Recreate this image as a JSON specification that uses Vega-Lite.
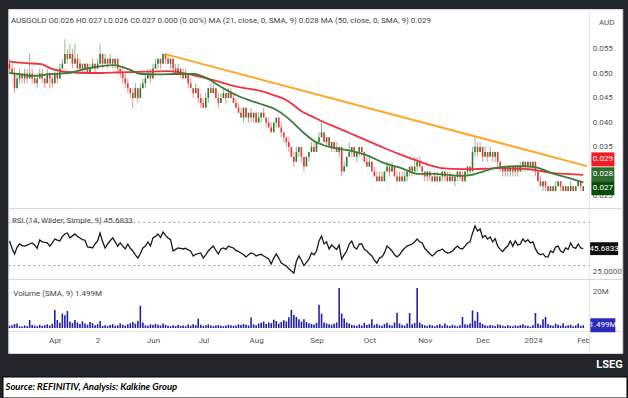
{
"$schema": "https://vega.github.io/schema/vega-lite/v6.json",
"background": "#23262d",
"padding": {"left": 2, "top": 8, "right": 2, "bottom": 2},
"config": {"font": "Liberation Sans Narrow, Roboto", "view": {"fill": "white", "stroke": "#d9d9d9"}, "scale": {"continuousPadding": 0}, "axis": {"labelOverlap": false}},
"datasets": {
"bars": [
{"i":0,"o":0.052,"h":0.053,"l":0.050,"c":0.051,"v":1.2,"r":52.8},
{"i":1,"o":0.051,"h":0.052,"l":0.050,"c":0.050,"v":1.5,"r":46},
{"i":2,"o":0.050,"h":0.051,"l":0.046,"c":0.047,"v":2.2,"r":40.7},
{"i":3,"o":0.047,"h":0.050,"l":0.047,"c":0.049,"v":2.5,"r":47},
{"i":4,"o":0.049,"h":0.051,"l":0.048,"c":0.050,"v":1.0,"r":50},
{"i":5,"o":0.050,"h":0.050,"l":0.048,"c":0.049,"v":0.8,"r":48.5},
{"i":6,"o":0.049,"h":0.051,"l":0.048,"c":0.050,"v":1.4,"r":48},
{"i":7,"o":0.050,"h":0.051,"l":0.048,"c":0.049,"v":1.1,"r":49},
{"i":8,"o":0.049,"h":0.054,"l":0.049,"c":0.050,"v":4.3,"r":50},
{"i":9,"o":0.050,"h":0.051,"l":0.048,"c":0.049,"v":1.6,"r":51},
{"i":10,"o":0.049,"h":0.050,"l":0.048,"c":0.048,"v":1.3,"r":49},
{"i":11,"o":0.048,"h":0.050,"l":0.047,"c":0.049,"v":1.0,"r":46},
{"i":12,"o":0.049,"h":0.051,"l":0.049,"c":0.050,"v":1.8,"r":53.7},
{"i":13,"o":0.050,"h":0.051,"l":0.048,"c":0.049,"v":1.2,"r":52},
{"i":14,"o":0.049,"h":0.049,"l":0.047,"c":0.048,"v":1.5,"r":51.5},
{"i":15,"o":0.048,"h":0.051,"l":0.048,"c":0.050,"v":2.0,"r":51},
{"i":16,"o":0.050,"h":0.050,"l":0.047,"c":0.049,"v":1.4,"r":48},
{"i":17,"o":0.049,"h":0.050,"l":0.047,"c":0.048,"v":2.3,"r":51},
{"i":18,"o":0.048,"h":0.051,"l":0.048,"c":0.050,"v":9.8,"r":54.6},
{"i":19,"o":0.050,"h":0.051,"l":0.048,"c":0.049,"v":4.3,"r":53.5},
{"i":20,"o":0.049,"h":0.052,"l":0.049,"c":0.051,"v":2.8,"r":52.8},
{"i":21,"o":0.051,"h":0.053,"l":0.051,"c":0.052,"v":7.8,"r":57},
{"i":22,"o":0.052,"h":0.057,"l":0.052,"c":0.054,"v":6.9,"r":59.3},
{"i":23,"o":0.054,"h":0.055,"l":0.052,"c":0.053,"v":9.2,"r":60.2},
{"i":24,"o":0.053,"h":0.056,"l":0.053,"c":0.054,"v":3.5,"r":55.6},
{"i":25,"o":0.054,"h":0.055,"l":0.051,"c":0.052,"v":2.7,"r":57.5},
{"i":26,"o":0.052,"h":0.056,"l":0.052,"c":0.053,"v":4.3,"r":59.3},
{"i":27,"o":0.053,"h":0.054,"l":0.051,"c":0.051,"v":3.0,"r":57},
{"i":28,"o":0.051,"h":0.053,"l":0.050,"c":0.052,"v":2.2,"r":55.6},
{"i":29,"o":0.052,"h":0.052,"l":0.050,"c":0.051,"v":3.6,"r":54},
{"i":30,"o":0.051,"h":0.052,"l":0.050,"c":0.052,"v":2.4,"r":53.5},
{"i":31,"o":0.052,"h":0.052,"l":0.050,"c":0.050,"v":1.8,"r":47.2},
{"i":32,"o":0.050,"h":0.052,"l":0.050,"c":0.051,"v":3.2,"r":47},
{"i":33,"o":0.051,"h":0.053,"l":0.051,"c":0.052,"v":2.6,"r":46.3},
{"i":34,"o":0.052,"h":0.052,"l":0.050,"c":0.051,"v":1.5,"r":50},
{"i":35,"o":0.051,"h":0.053,"l":0.051,"c":0.052,"v":2.1,"r":52.8},
{"i":36,"o":0.052,"h":0.056,"l":0.052,"c":0.054,"v":3.8,"r":60.2},
{"i":37,"o":0.054,"h":0.054,"l":0.051,"c":0.052,"v":1.2,"r":52},
{"i":38,"o":0.052,"h":0.054,"l":0.052,"c":0.053,"v":1.5,"r":46.3},
{"i":39,"o":0.053,"h":0.053,"l":0.051,"c":0.052,"v":1.0,"r":50},
{"i":40,"o":0.052,"h":0.054,"l":0.052,"c":0.053,"v":1.7,"r":53},
{"i":41,"o":0.053,"h":0.053,"l":0.051,"c":0.052,"v":2.1,"r":55.6},
{"i":42,"o":0.052,"h":0.053,"l":0.051,"c":0.053,"v":1.2,"r":52},
{"i":43,"o":0.053,"h":0.053,"l":0.050,"c":0.051,"v":1.4,"r":48.1},
{"i":44,"o":0.051,"h":0.051,"l":0.049,"c":0.050,"v":2.5,"r":51},
{"i":45,"o":0.050,"h":0.051,"l":0.048,"c":0.049,"v":1.8,"r":48},
{"i":46,"o":0.049,"h":0.050,"l":0.047,"c":0.048,"v":1.3,"r":45.4},
{"i":47,"o":0.048,"h":0.049,"l":0.046,"c":0.047,"v":2.0,"r":50},
{"i":48,"o":0.047,"h":0.047,"l":0.045,"c":0.046,"v":2.6,"r":46},
{"i":49,"o":0.046,"h":0.047,"l":0.043,"c":0.045,"v":3.2,"r":43.5},
{"i":50,"o":0.045,"h":0.048,"l":0.045,"c":0.047,"v":2.4,"r":40},
{"i":51,"o":0.047,"h":0.047,"l":0.044,"c":0.045,"v":4.0,"r":37},
{"i":52,"o":0.045,"h":0.048,"l":0.045,"c":0.047,"v":12.0,"r":41},
{"i":53,"o":0.047,"h":0.049,"l":0.047,"c":0.048,"v":3.0,"r":46.3},
{"i":54,"o":0.048,"h":0.050,"l":0.047,"c":0.049,"v":1.5,"r":48},
{"i":55,"o":0.049,"h":0.051,"l":0.049,"c":0.050,"v":1.2,"r":51.9},
{"i":56,"o":0.050,"h":0.051,"l":0.048,"c":0.049,"v":2.0,"r":48.1},
{"i":57,"o":0.049,"h":0.052,"l":0.049,"c":0.051,"v":1.6,"r":55.6},
{"i":58,"o":0.051,"h":0.053,"l":0.051,"c":0.052,"v":2.3,"r":57},
{"i":59,"o":0.052,"h":0.053,"l":0.051,"c":0.053,"v":1.8,"r":59.3},
{"i":60,"o":0.053,"h":0.053,"l":0.051,"c":0.052,"v":1.4,"r":56},
{"i":61,"o":0.052,"h":0.054,"l":0.052,"c":0.054,"v":2.5,"r":61.1},
{"i":62,"o":0.054,"h":0.054,"l":0.052,"c":0.053,"v":1.7,"r":58},
{"i":63,"o":0.053,"h":0.054,"l":0.052,"c":0.052,"v":1.2,"r":55.6},
{"i":64,"o":0.052,"h":0.053,"l":0.051,"c":0.053,"v":1.0,"r":54},
{"i":65,"o":0.053,"h":0.053,"l":0.050,"c":0.051,"v":1.5,"r":43.5},
{"i":66,"o":0.051,"h":0.052,"l":0.050,"c":0.050,"v":1.1,"r":45},
{"i":67,"o":0.050,"h":0.052,"l":0.050,"c":0.051,"v":1.6,"r":46.3},
{"i":68,"o":0.051,"h":0.051,"l":0.049,"c":0.050,"v":1.2,"r":46},
{"i":69,"o":0.050,"h":0.051,"l":0.049,"c":0.049,"v":1.4,"r":45.4},
{"i":70,"o":0.049,"h":0.051,"l":0.049,"c":0.050,"v":1.0,"r":46},
{"i":71,"o":0.050,"h":0.050,"l":0.047,"c":0.048,"v":1.9,"r":44.5},
{"i":72,"o":0.048,"h":0.049,"l":0.047,"c":0.047,"v":1.3,"r":43.5},
{"i":73,"o":0.047,"h":0.047,"l":0.045,"c":0.046,"v":2.1,"r":38.9},
{"i":74,"o":0.046,"h":0.048,"l":0.046,"c":0.047,"v":1.5,"r":40.5},
{"i":75,"o":0.047,"h":0.047,"l":0.044,"c":0.045,"v":5.0,"r":41},
{"i":76,"o":0.045,"h":0.046,"l":0.043,"c":0.044,"v":1.8,"r":41.7},
{"i":77,"o":0.044,"h":0.045,"l":0.043,"c":0.043,"v":1.2,"r":37},
{"i":78,"o":0.043,"h":0.046,"l":0.043,"c":0.045,"v":1.5,"r":40},
{"i":79,"o":0.045,"h":0.047,"l":0.044,"c":0.047,"v":2.0,"r":43.5},
{"i":80,"o":0.047,"h":0.048,"l":0.046,"c":0.046,"v":1.4,"r":46},
{"i":81,"o":0.046,"h":0.048,"l":0.046,"c":0.047,"v":1.1,"r":48.1},
{"i":82,"o":0.047,"h":0.047,"l":0.045,"c":0.045,"v":1.3,"r":44},
{"i":83,"o":0.045,"h":0.046,"l":0.043,"c":0.044,"v":1.6,"r":40.7},
{"i":84,"o":0.044,"h":0.046,"l":0.044,"c":0.045,"v":1.2,"r":45.4},
{"i":85,"o":0.045,"h":0.047,"l":0.045,"c":0.046,"v":1.0,"r":46.3},
{"i":86,"o":0.046,"h":0.046,"l":0.044,"c":0.045,"v":1.4,"r":45},
{"i":87,"o":0.045,"h":0.047,"l":0.045,"c":0.046,"v":1.8,"r":48.1},
{"i":88,"o":0.046,"h":0.047,"l":0.045,"c":0.045,"v":1.5,"r":47},
{"i":89,"o":0.045,"h":0.046,"l":0.044,"c":0.044,"v":1.2,"r":46.3},
{"i":90,"o":0.044,"h":0.045,"l":0.043,"c":0.043,"v":1.3,"r":44},
{"i":91,"o":0.043,"h":0.044,"l":0.042,"c":0.042,"v":2.0,"r":43},
{"i":92,"o":0.042,"h":0.043,"l":0.041,"c":0.041,"v":1.7,"r":41.7},
{"i":93,"o":0.041,"h":0.043,"l":0.040,"c":0.043,"v":2.2,"r":40},
{"i":94,"o":0.043,"h":0.043,"l":0.041,"c":0.041,"v":1.8,"r":38},
{"i":95,"o":0.041,"h":0.042,"l":0.040,"c":0.042,"v":1.4,"r":40},
{"i":96,"o":0.042,"h":0.043,"l":0.040,"c":0.041,"v":5.7,"r":41.7},
{"i":97,"o":0.041,"h":0.042,"l":0.040,"c":0.042,"v":2.0,"r":41},
{"i":98,"o":0.042,"h":0.042,"l":0.040,"c":0.040,"v":1.5,"r":38.9},
{"i":99,"o":0.040,"h":0.042,"l":0.040,"c":0.041,"v":2.5,"r":40},
{"i":100,"o":0.041,"h":0.042,"l":0.040,"c":0.042,"v":2.8,"r":40.5},
{"i":101,"o":0.042,"h":0.043,"l":0.041,"c":0.041,"v":3.5,"r":38.9},
{"i":102,"o":0.041,"h":0.041,"l":0.039,"c":0.040,"v":2.2,"r":37.5},
{"i":103,"o":0.040,"h":0.041,"l":0.039,"c":0.039,"v":3.0,"r":36.1},
{"i":104,"o":0.039,"h":0.040,"l":0.038,"c":0.038,"v":2.6,"r":31.5},
{"i":105,"o":0.038,"h":0.040,"l":0.038,"c":0.040,"v":4.5,"r":37},
{"i":106,"o":0.040,"h":0.041,"l":0.039,"c":0.041,"v":3.8,"r":40.7},
{"i":107,"o":0.041,"h":0.041,"l":0.039,"c":0.039,"v":2.4,"r":37},
{"i":108,"o":0.039,"h":0.040,"l":0.037,"c":0.038,"v":3.3,"r":32.4},
{"i":109,"o":0.038,"h":0.038,"l":0.036,"c":0.037,"v":4.2,"r":31},
{"i":110,"o":0.037,"h":0.037,"l":0.035,"c":0.036,"v":3.6,"r":29.6},
{"i":111,"o":0.036,"h":0.037,"l":0.034,"c":0.035,"v":5.8,"r":27},
{"i":112,"o":0.035,"h":0.035,"l":0.033,"c":0.033,"v":9.8,"r":25},
{"i":113,"o":0.033,"h":0.034,"l":0.031,"c":0.032,"v":7.0,"r":23.1},
{"i":114,"o":0.032,"h":0.035,"l":0.032,"c":0.034,"v":6.0,"r":34},
{"i":115,"o":0.034,"h":0.035,"l":0.033,"c":0.035,"v":4.7,"r":38.9},
{"i":116,"o":0.035,"h":0.035,"l":0.032,"c":0.033,"v":3.5,"r":35},
{"i":117,"o":0.033,"h":0.033,"l":0.030,"c":0.031,"v":4.7,"r":30},
{"i":118,"o":0.031,"h":0.033,"l":0.031,"c":0.033,"v":3.2,"r":33},
{"i":119,"o":0.033,"h":0.034,"l":0.032,"c":0.034,"v":2.6,"r":36},
{"i":120,"o":0.034,"h":0.036,"l":0.034,"c":0.035,"v":2.2,"r":41.7},
{"i":121,"o":0.035,"h":0.036,"l":0.034,"c":0.034,"v":1.9,"r":40},
{"i":122,"o":0.034,"h":0.036,"l":0.034,"c":0.036,"v":2.8,"r":43.5},
{"i":123,"o":0.036,"h":0.038,"l":0.036,"c":0.037,"v":12.6,"r":52.8},
{"i":124,"o":0.037,"h":0.040,"l":0.037,"c":0.038,"v":7.8,"r":57.4},
{"i":125,"o":0.038,"h":0.038,"l":0.036,"c":0.036,"v":3.0,"r":50},
{"i":126,"o":0.036,"h":0.037,"l":0.035,"c":0.037,"v":2.5,"r":52},
{"i":127,"o":0.037,"h":0.037,"l":0.035,"c":0.035,"v":2.0,"r":45.4},
{"i":128,"o":0.035,"h":0.036,"l":0.034,"c":0.036,"v":1.8,"r":49},
{"i":129,"o":0.036,"h":0.036,"l":0.034,"c":0.035,"v":2.3,"r":47},
{"i":130,"o":0.035,"h":0.036,"l":0.034,"c":0.034,"v":3.0,"r":45},
{"i":131,"o":0.034,"h":0.035,"l":0.033,"c":0.035,"v":21.6,"r":49},
{"i":132,"o":0.035,"h":0.035,"l":0.029,"c":0.030,"v":7.8,"r":36.1},
{"i":133,"o":0.030,"h":0.032,"l":0.030,"c":0.031,"v":5.2,"r":40},
{"i":134,"o":0.031,"h":0.033,"l":0.031,"c":0.033,"v":3.0,"r":43.5},
{"i":135,"o":0.033,"h":0.036,"l":0.033,"c":0.034,"v":2.4,"r":50},
{"i":136,"o":0.034,"h":0.035,"l":0.033,"c":0.035,"v":1.8,"r":52.8},
{"i":137,"o":0.035,"h":0.035,"l":0.033,"c":0.033,"v":1.5,"r":47},
{"i":138,"o":0.033,"h":0.034,"l":0.032,"c":0.034,"v":1.2,"r":45.4},
{"i":139,"o":0.034,"h":0.035,"l":0.033,"c":0.035,"v":2.0,"r":50},
{"i":140,"o":0.035,"h":0.035,"l":0.033,"c":0.034,"v":1.4,"r":50},
{"i":141,"o":0.034,"h":0.034,"l":0.032,"c":0.032,"v":2.8,"r":45},
{"i":142,"o":0.032,"h":0.033,"l":0.031,"c":0.031,"v":1.6,"r":43.5},
{"i":143,"o":0.031,"h":0.033,"l":0.031,"c":0.032,"v":2.1,"r":41},
{"i":144,"o":0.032,"h":0.032,"l":0.030,"c":0.030,"v":4.7,"r":38.9},
{"i":145,"o":0.030,"h":0.031,"l":0.029,"c":0.029,"v":1.7,"r":35},
{"i":146,"o":0.029,"h":0.030,"l":0.028,"c":0.028,"v":2.3,"r":32.4},
{"i":147,"o":0.028,"h":0.030,"l":0.028,"c":0.029,"v":1.5,"r":37},
{"i":148,"o":0.029,"h":0.030,"l":0.028,"c":0.028,"v":1.2,"r":38},
{"i":149,"o":0.028,"h":0.030,"l":0.028,"c":0.030,"v":2.2,"r":41.7},
{"i":150,"o":0.030,"h":0.032,"l":0.030,"c":0.031,"v":2.8,"r":48.1},
{"i":151,"o":0.031,"h":0.031,"l":0.029,"c":0.030,"v":1.8,"r":46},
{"i":152,"o":0.030,"h":0.032,"l":0.030,"c":0.031,"v":1.4,"r":43.5},
{"i":153,"o":0.031,"h":0.031,"l":0.029,"c":0.029,"v":3.0,"r":40},
{"i":154,"o":0.029,"h":0.030,"l":0.028,"c":0.028,"v":8.3,"r":38},
{"i":155,"o":0.028,"h":0.030,"l":0.028,"c":0.029,"v":2.5,"r":40},
{"i":156,"o":0.029,"h":0.030,"l":0.028,"c":0.028,"v":1.6,"r":43.5},
{"i":157,"o":0.028,"h":0.030,"l":0.028,"c":0.029,"v":1.3,"r":46},
{"i":158,"o":0.029,"h":0.030,"l":0.028,"c":0.030,"v":2.4,"r":48.1},
{"i":159,"o":0.030,"h":0.031,"l":0.029,"c":0.031,"v":8.1,"r":49},
{"i":160,"o":0.031,"h":0.031,"l":0.029,"c":0.030,"v":2.0,"r":50},
{"i":161,"o":0.030,"h":0.033,"l":0.030,"c":0.031,"v":2.8,"r":52},
{"i":162,"o":0.031,"h":0.033,"l":0.030,"c":0.032,"v":21.6,"r":54.6},
{"i":163,"o":0.032,"h":0.033,"l":0.031,"c":0.031,"v":3.0,"r":52},
{"i":164,"o":0.031,"h":0.031,"l":0.029,"c":0.030,"v":2.0,"r":50.9},
{"i":165,"o":0.030,"h":0.030,"l":0.028,"c":0.029,"v":1.5,"r":46},
{"i":166,"o":0.029,"h":0.030,"l":0.028,"c":0.030,"v":1.2,"r":43.5},
{"i":167,"o":0.030,"h":0.030,"l":0.028,"c":0.029,"v":1.8,"r":41},
{"i":168,"o":0.029,"h":0.029,"l":0.028,"c":0.028,"v":1.4,"r":38.9},
{"i":169,"o":0.028,"h":0.030,"l":0.028,"c":0.029,"v":1.0,"r":41},
{"i":170,"o":0.029,"h":0.030,"l":0.028,"c":0.028,"v":1.6,"r":43.5},
{"i":171,"o":0.028,"h":0.029,"l":0.028,"c":0.029,"v":2.0,"r":44},
{"i":172,"o":0.029,"h":0.030,"l":0.028,"c":0.030,"v":1.2,"r":45.4},
{"i":173,"o":0.030,"h":0.030,"l":0.028,"c":0.029,"v":2.4,"r":43},
{"i":174,"o":0.029,"h":0.030,"l":0.028,"c":0.028,"v":1.5,"r":41.7},
{"i":175,"o":0.028,"h":0.030,"l":0.028,"c":0.029,"v":1.1,"r":42},
{"i":176,"o":0.029,"h":0.029,"l":0.028,"c":0.028,"v":1.8,"r":43.5},
{"i":177,"o":0.028,"h":0.029,"l":0.027,"c":0.029,"v":1.3,"r":46},
{"i":178,"o":0.029,"h":0.030,"l":0.028,"c":0.030,"v":1.0,"r":48.1},
{"i":179,"o":0.030,"h":0.030,"l":0.028,"c":0.029,"v":1.5,"r":46},
{"i":180,"o":0.029,"h":0.030,"l":0.028,"c":0.028,"v":6.0,"r":45.4},
{"i":181,"o":0.028,"h":0.030,"l":0.028,"c":0.030,"v":2.0,"r":48},
{"i":182,"o":0.030,"h":0.031,"l":0.029,"c":0.031,"v":1.8,"r":50.9},
{"i":183,"o":0.031,"h":0.031,"l":0.029,"c":0.030,"v":2.5,"r":52},
{"i":184,"o":0.030,"h":0.035,"l":0.030,"c":0.034,"v":9.5,"r":60},
{"i":185,"o":0.034,"h":0.037,"l":0.033,"c":0.035,"v":4.0,"r":66.7},
{"i":186,"o":0.035,"h":0.036,"l":0.033,"c":0.034,"v":8.6,"r":62},
{"i":187,"o":0.034,"h":0.036,"l":0.034,"c":0.035,"v":3.0,"r":63.9},
{"i":188,"o":0.035,"h":0.035,"l":0.032,"c":0.033,"v":2.2,"r":56},
{"i":189,"o":0.033,"h":0.035,"l":0.033,"c":0.034,"v":1.5,"r":58},
{"i":190,"o":0.034,"h":0.034,"l":0.032,"c":0.033,"v":1.2,"r":54.6},
{"i":191,"o":0.033,"h":0.035,"l":0.033,"c":0.034,"v":1.6,"r":56.5},
{"i":192,"o":0.034,"h":0.034,"l":0.032,"c":0.033,"v":1.4,"r":52},
{"i":193,"o":0.033,"h":0.034,"l":0.032,"c":0.034,"v":1.1,"r":55},
{"i":194,"o":0.034,"h":0.034,"l":0.031,"c":0.032,"v":2.0,"r":48},
{"i":195,"o":0.032,"h":0.032,"l":0.030,"c":0.031,"v":1.7,"r":45},
{"i":196,"o":0.031,"h":0.031,"l":0.029,"c":0.030,"v":1.3,"r":43},
{"i":197,"o":0.030,"h":0.031,"l":0.029,"c":0.031,"v":1.0,"r":46},
{"i":198,"o":0.031,"h":0.031,"l":0.029,"c":0.030,"v":1.5,"r":48.1},
{"i":199,"o":0.030,"h":0.031,"l":0.029,"c":0.031,"v":1.2,"r":52.8},
{"i":200,"o":0.031,"h":0.031,"l":0.029,"c":0.030,"v":0.9,"r":48},
{"i":201,"o":0.030,"h":0.031,"l":0.029,"c":0.031,"v":1.4,"r":52.8},
{"i":202,"o":0.031,"h":0.031,"l":0.029,"c":0.030,"v":1.1,"r":49},
{"i":203,"o":0.030,"h":0.032,"l":0.030,"c":0.031,"v":1.6,"r":50},
{"i":204,"o":0.031,"h":0.032,"l":0.030,"c":0.032,"v":2.0,"r":54.6},
{"i":205,"o":0.032,"h":0.032,"l":0.030,"c":0.031,"v":1.4,"r":52},
{"i":206,"o":0.031,"h":0.032,"l":0.030,"c":0.032,"v":1.2,"r":54},
{"i":207,"o":0.032,"h":0.032,"l":0.030,"c":0.031,"v":0.8,"r":50.9},
{"i":208,"o":0.031,"h":0.032,"l":0.030,"c":0.032,"v":1.5,"r":52},
{"i":209,"o":0.032,"h":0.032,"l":0.029,"c":0.030,"v":8.1,"r":45.4},
{"i":210,"o":0.030,"h":0.030,"l":0.028,"c":0.028,"v":2.5,"r":41.7},
{"i":211,"o":0.028,"h":0.029,"l":0.027,"c":0.027,"v":1.7,"r":40},
{"i":212,"o":0.027,"h":0.028,"l":0.026,"c":0.028,"v":4.7,"r":41},
{"i":213,"o":0.028,"h":0.028,"l":0.026,"c":0.027,"v":6.0,"r":38},
{"i":214,"o":0.027,"h":0.027,"l":0.026,"c":0.026,"v":2.2,"r":38},
{"i":215,"o":0.026,"h":0.027,"l":0.026,"c":0.027,"v":1.6,"r":43.5},
{"i":216,"o":0.027,"h":0.027,"l":0.026,"c":0.026,"v":1.2,"r":42},
{"i":217,"o":0.026,"h":0.028,"l":0.026,"c":0.027,"v":2.4,"r":47.2},
{"i":218,"o":0.027,"h":0.028,"l":0.027,"c":0.028,"v":1.8,"r":48},
{"i":219,"o":0.028,"h":0.028,"l":0.026,"c":0.027,"v":1.3,"r":43.5},
{"i":220,"o":0.027,"h":0.027,"l":0.026,"c":0.026,"v":2.6,"r":42},
{"i":221,"o":0.026,"h":0.027,"l":0.026,"c":0.027,"v":1.1,"r":46.3},
{"i":222,"o":0.027,"h":0.027,"l":0.026,"c":0.026,"v":1.5,"r":45},
{"i":223,"o":0.026,"h":0.028,"l":0.026,"c":0.027,"v":1.8,"r":50.9},
{"i":224,"o":0.027,"h":0.027,"l":0.026,"c":0.026,"v":1.0,"r":47},
{"i":225,"o":0.026,"h":0.027,"l":0.026,"c":0.027,"v":1.4,"r":46},
{"i":226,"o":0.027,"h":0.028,"l":0.027,"c":0.028,"v":2.4,"r":50},
{"i":227,"o":0.028,"h":0.028,"l":0.026,"c":0.027,"v":1.2,"r":46.3},
{"i":228,"o":0.026,"h":0.027,"l":0.026,"c":0.027,"v":1.5,"r":45.68}
],
"ma": [
{"s":"MA50","i":0,"p":0.0524},{"s":"MA50","i":6.7,"p":0.0521},{"s":"MA50","i":12.6,"p":0.0519},{"s":"MA50","i":16.6,"p":0.0510},{"s":"MA50","i":20.6,"p":0.0505},{"s":"MA50","i":23.3,"p":0.0503},{"s":"MA50","i":31.3,"p":0.0501},{"s":"MA50","i":36.5,"p":0.0501},{"s":"MA50","i":42.4,"p":0.0502},{"s":"MA50","i":49.6,"p":0.0503},{"s":"MA50","i":56.3,"p":0.0504},{"s":"MA50","i":63.1,"p":0.0505},{"s":"MA50","i":67.1,"p":0.0503},{"s":"MA50","i":71,"p":0.0499},{"s":"MA50","i":75,"p":0.0494},{"s":"MA50","i":79,"p":0.0489},{"s":"MA50","i":84.2,"p":0.0482},{"s":"MA50","i":89.3,"p":0.0474},{"s":"MA50","i":94.9,"p":0.0469},{"s":"MA50","i":100.1,"p":0.0464},{"s":"MA50","i":104.8,"p":0.0456},{"s":"MA50","i":109.2,"p":0.0448},{"s":"MA50","i":112.8,"p":0.0436},{"s":"MA50","i":116,"p":0.0423},{"s":"MA50","i":120,"p":0.0413},{"s":"MA50","i":123.9,"p":0.0403},{"s":"MA50","i":129.9,"p":0.0390},{"s":"MA50","i":135.8,"p":0.0377},{"s":"MA50","i":142.6,"p":0.0362},{"s":"MA50","i":148.9,"p":0.0348},{"s":"MA50","i":155.7,"p":0.0334},{"s":"MA50","i":162.5,"p":0.0321},{"s":"MA50","i":167.6,"p":0.0312},{"s":"MA50","i":171.6,"p":0.0307},{"s":"MA50","i":179.5,"p":0.0305},{"s":"MA50","i":184.7,"p":0.0305},{"s":"MA50","i":190.3,"p":0.0306},{"s":"MA50","i":195.4,"p":0.0307},{"s":"MA50","i":200.6,"p":0.0306},{"s":"MA50","i":206.2,"p":0.0305},{"s":"MA50","i":211.3,"p":0.0301},{"s":"MA50","i":215.3,"p":0.0297},{"s":"MA50","i":221.3,"p":0.0295},{"s":"MA50","i":228,"p":0.0293},
{"s":"MA21","i":0,"p":0.0501},{"s":"MA21","i":4.7,"p":0.0498},{"s":"MA21","i":9.8,"p":0.0495},{"s":"MA21","i":16.6,"p":0.0499},{"s":"MA21","i":23.3,"p":0.0501},{"s":"MA21","i":29.7,"p":0.0509},{"s":"MA21","i":36.5,"p":0.0515},{"s":"MA21","i":41.6,"p":0.0517},{"s":"MA21","i":44.4,"p":0.0514},{"s":"MA21","i":47.2,"p":0.0509},{"s":"MA21","i":52.4,"p":0.0499},{"s":"MA21","i":59.1,"p":0.0498},{"s":"MA21","i":66.3,"p":0.0499},{"s":"MA21","i":73.4,"p":0.0499},{"s":"MA21","i":76.2,"p":0.0495},{"s":"MA21","i":79,"p":0.0489},{"s":"MA21","i":83,"p":0.0476},{"s":"MA21","i":87,"p":0.0464},{"s":"MA21","i":91.3,"p":0.0453},{"s":"MA21","i":96.1,"p":0.0444},{"s":"MA21","i":100.9,"p":0.0436},{"s":"MA21","i":105.2,"p":0.0428},{"s":"MA21","i":109.2,"p":0.0415},{"s":"MA21","i":113.2,"p":0.0397},{"s":"MA21","i":117.1,"p":0.0378},{"s":"MA21","i":121.1,"p":0.0362},{"s":"MA21","i":125.1,"p":0.0353},{"s":"MA21","i":129.1,"p":0.0348},{"s":"MA21","i":135.8,"p":0.0342},{"s":"MA21","i":142.6,"p":0.0332},{"s":"MA21","i":148.9,"p":0.0317},{"s":"MA21","i":155.7,"p":0.0307},{"s":"MA21","i":162.5,"p":0.0295},{"s":"MA21","i":168.8,"p":0.0295},{"s":"MA21","i":174.4,"p":0.0293},{"s":"MA21","i":179.5,"p":0.0291},{"s":"MA21","i":183.5,"p":0.0293},{"s":"MA21","i":186.3,"p":0.0297},{"s":"MA21","i":189.5,"p":0.0302},{"s":"MA21","i":192.7,"p":0.0307},{"s":"MA21","i":197.4,"p":0.0310},{"s":"MA21","i":202.2,"p":0.0311},{"s":"MA21","i":208.6,"p":0.0309},{"s":"MA21","i":212.1,"p":0.0304},{"s":"MA21","i":215.3,"p":0.0297},{"s":"MA21","i":218.5,"p":0.0292},{"s":"MA21","i":222.1,"p":0.0287},{"s":"MA21","i":225.3,"p":0.0282},{"s":"MA21","i":228,"p":0.0278}
],
"trend": [{"i":61.5,"p":0.054},{"i":229.5,"p":0.0311}],
"lvl": [{"lv":70},{"lv":30}]
},
"center": true,
"spacing": 6,
"vconcat": [
{
"title": {"text": "LSEG", "orient": "bottom", "anchor": "end", "offset": 5, "fontSize": 11, "fontWeight": "bold", "color": "white", "font": "Roboto"},
"spacing": 0,
"bounds": "flush",
"resolve": {"scale": {"x": "shared", "y": "independent", "color": "independent"}},
"vconcat": [
{
"width": 614, "height": 199,
"title": {"text": "AUSGOLD  O0.026  H0.027  L0.026  C0.027  0.000 (0.00%)     MA (21, close, 0, SMA, 9)  0.028     MA (50, close, 0, SMA, 9)  0.029", "orient": "top", "anchor": "start", "offset": -20, "dx": 5, "baseline": "middle", "fontSize": 8, "fontWeight": "normal", "color": "#444"},
"layer": [
{"data": {"name": "bars"}, "mark": {"type": "rule", "strokeWidth": 1, "opacity": 0.55},
 "encoding": {
  "x": {"field": "i", "type": "quantitative", "scale": {"domain": [-0.5, 243.5], "nice": false, "zero": false}, "axis": null},
  "y": {"field": "l", "type": "quantitative", "scale": {"domain": [0.02255, 0.06316], "nice": false, "zero": false},
        "axis": {"orient": "right", "offset": -33, "values": [0.025, 0.035, 0.04, 0.045, 0.05, 0.055], "tickCount": 20, "format": ".3f", "ticks": false, "grid": false, "labelOverlap": false, "domainColor": "#e2e2e2", "labelColor": "#555", "labelFontSize": 8, "labelPadding": 3, "title": "AUD", "titleAngle": 0, "titleAlign": "center", "titleBaseline": "middle", "titleX": 17, "titleY": 13, "titleFontSize": 8, "titleFontWeight": "normal", "titleColor": "#555"}},
  "y2": {"field": "h"},
  "color": {"condition": {"test": "datum.c >= datum.o", "value": "#2e7d32"}, "value": "#e53935"}}},
{"data": {"name": "bars"}, "mark": {"type": "bar", "width": 1.6},
 "encoding": {
  "x": {"field": "i", "type": "quantitative", "scale": {"domain": [-0.5, 243.5], "nice": false, "zero": false}, "axis": null},
  "y": {"field": "o", "type": "quantitative", "scale": {"domain": [0.02255, 0.06316], "nice": false, "zero": false}},
  "y2": {"field": "c"},
  "color": {"condition": {"test": "datum.c >= datum.o", "value": "#2e7d32"}, "value": "#e53935"}}},
{"data": {"name": "ma"}, "mark": {"type": "line", "strokeWidth": 1.8, "interpolate": "monotone"},
 "encoding": {
  "x": {"field": "i", "type": "quantitative", "scale": {"domain": [-0.5, 243.5], "nice": false, "zero": false}, "axis": null},
  "y": {"field": "p", "type": "quantitative", "scale": {"domain": [0.02255, 0.06316], "nice": false, "zero": false}},
  "color": {"field": "s", "type": "nominal", "scale": {"domain": ["MA21", "MA50"], "range": ["#3c7d3c", "#f0323c"]}, "legend": null}}},
{"data": {"name": "trend"}, "mark": {"type": "line", "color": "#ffa726", "strokeWidth": 2},
 "encoding": {
  "x": {"field": "i", "type": "quantitative", "scale": {"domain": [-0.5, 243.5], "nice": false, "zero": false}, "axis": null},
  "y": {"field": "p", "type": "quantitative", "scale": {"domain": [0.02255, 0.06316], "nice": false, "zero": false}}}},
{"data": {"values": [{"t": "0.029", "v": 0.029}]}, "mark": {"type": "point", "shape": "M-1,-0.61H1V0.61H-1Z", "size": 529, "filled": true, "opacity": 1, "color": "#f21c23", "yOffset": -17},
 "encoding": {"x": {"datum": 235.8, "type": "quantitative"}, "y": {"field": "v", "type": "quantitative"}}},
{"data": {"values": [{"t": "0.029", "v": 0.029}]}, "mark": {"type": "text", "color": "white", "fontSize": 8, "baseline": "middle", "yOffset": -17},
 "encoding": {"x": {"datum": 235.8, "type": "quantitative"}, "y": {"field": "v", "type": "quantitative"}, "text": {"field": "t"}}},
{"data": {"values": [{"t": "0.028", "v": 0.028}]}, "mark": {"type": "point", "shape": "M-1,-0.61H1V0.61H-1Z", "size": 529, "filled": true, "opacity": 1, "color": "#2d6e2d", "yOffset": -7},
 "encoding": {"x": {"datum": 235.8, "type": "quantitative"}, "y": {"field": "v", "type": "quantitative"}}},
{"data": {"values": [{"t": "0.028", "v": 0.028}]}, "mark": {"type": "text", "color": "white", "fontSize": 8, "baseline": "middle", "yOffset": -7},
 "encoding": {"x": {"datum": 235.8, "type": "quantitative"}, "y": {"field": "v", "type": "quantitative"}, "text": {"field": "t"}}},
{"data": {"values": [{"t": "0.027", "v": 0.027}]}, "mark": {"type": "point", "shape": "M-1,-0.61H1V0.61H-1Z", "size": 529, "filled": true, "opacity": 1, "color": "#0b4d0b", "yOffset": 2},
 "encoding": {"x": {"datum": 235.8, "type": "quantitative"}, "y": {"field": "v", "type": "quantitative"}}},
{"data": {"values": [{"t": "0.027", "v": 0.027}]}, "mark": {"type": "text", "color": "white", "fontSize": 8, "baseline": "middle", "yOffset": 2},
 "encoding": {"x": {"datum": 235.8, "type": "quantitative"}, "y": {"field": "v", "type": "quantitative"}, "text": {"field": "t"}}}
]
},
{
"width": 614, "height": 71,
"title": {"text": "RSI (14, Wilder, Simple, 9)  45.6833", "orient": "top", "anchor": "start", "offset": -21, "dx": 5, "baseline": "middle", "fontSize": 8, "fontWeight": "normal", "color": "#444"},
"layer": [
{"data": {"name": "lvl"}, "mark": {"type": "rule", "color": "#9a9a9a", "strokeDash": [2, 3], "strokeWidth": 1},
 "encoding": {
  "x": {"datum": -0.5, "type": "quantitative", "scale": {"domain": [-0.5, 243.5], "nice": false, "zero": false}, "axis": null},
  "x2": {"datum": 230.4},
  "y": {"field": "lv", "type": "quantitative", "scale": {"domain": [17.6, 83.3], "nice": false, "zero": false},
        "axis": {"orient": "right", "offset": -33, "values": [25], "format": ".4f", "ticks": false, "grid": false, "labelOverlap": false, "domainColor": "#e2e2e2", "labelColor": "#555", "labelFontSize": 8, "labelPadding": 3, "title": null}}}},
{"data": {"name": "bars"}, "mark": {"type": "line", "color": "#1a1a1a", "strokeWidth": 1.3},
 "encoding": {
  "x": {"field": "i", "type": "quantitative", "scale": {"domain": [-0.5, 243.5], "nice": false, "zero": false}, "axis": null},
  "y": {"field": "r", "type": "quantitative", "scale": {"domain": [17.6, 83.3], "nice": false, "zero": false}}}},
{"data": {"values": [{"t": "45.6833", "v": 45.6833}]}, "mark": {"type": "point", "shape": "M-1,-0.46H1V0.46H-1Z", "size": 784, "filled": true, "opacity": 1, "color": "#111111"},
 "encoding": {"x": {"datum": 236.3, "type": "quantitative"}, "y": {"field": "v", "type": "quantitative"}}},
{"data": {"values": [{"t": "45.6833", "v": 45.6833}]}, "mark": {"type": "text", "color": "white", "fontSize": 8, "baseline": "middle"},
 "encoding": {"x": {"datum": 236.3, "type": "quantitative"}, "y": {"field": "v", "type": "quantitative"}, "text": {"field": "t"}}}
]
},
{
"width": 614, "height": 74,
"title": {"text": "Volume (SMA, 9)  1.499M", "orient": "top", "anchor": "start", "offset": -23, "dx": 5, "baseline": "middle", "fontSize": 8, "fontWeight": "normal", "color": "#444"},
"layer": [
{"data": {"name": "bars"}, "mark": {"type": "bar", "width": 1.6, "color": "#2121a5"},
 "encoding": {
  "x": {"field": "i", "type": "quantitative", "scale": {"domain": [-0.5, 243.5], "nice": false, "zero": false},
        "axis": {"orient": "bottom", "offset": -22, "values": [18, 35, 57, 77, 98, 122, 143, 165, 188, 208, 228], "tickCount": 30, "labelExpr": "['Apr','2','Jun','Jul','Aug','Sep','Oct','Nov','Dec','2024','Feb'][indexof([18,35,57,77,98,122,143,165,188,208,228], datum.value)]", "ticks": false, "grid": false, "domainColor": "#e2e2e2", "labelColor": "#555", "labelFontSize": 8, "labelPadding": 5, "labelFlush": false, "labelOverlap": false, "title": null}},
  "y": {"field": "v", "type": "quantitative", "scale": {"domain": [-13.5, 26.5], "nice": false, "zero": false},
        "axis": {"orient": "right", "offset": -33, "values": [20], "labelExpr": "datum.value + 'M'", "ticks": false, "grid": false, "domainColor": "#e2e2e2", "labelColor": "#555", "labelFontSize": 8, "labelPadding": 3, "title": null}},
  "y2": {"datum": 0}}},
{"data": {"values": [{"t": "1.499M", "v": 1.499}]}, "mark": {"type": "point", "shape": "M-1,-0.56H1V0.56H-1Z", "size": 625, "filled": true, "opacity": 1, "color": "#2a2ab8"},
 "encoding": {"x": {"datum": 235.8, "type": "quantitative"}, "y": {"field": "v", "type": "quantitative"}}},
{"data": {"values": [{"t": "1.499M", "v": 1.499}]}, "mark": {"type": "text", "color": "white", "fontSize": 8, "baseline": "middle"},
 "encoding": {"x": {"datum": 235.8, "type": "quantitative"}, "y": {"field": "v", "type": "quantitative"}, "text": {"field": "t"}}}
]
}
]
},
{
"width": 624, "height": 21,
"view": {"fill": "white", "stroke": "black", "strokeWidth": 1},
"title": {"text": "Source: REFINITIV, Analysis: Kalkine Group", "orient": "top", "anchor": "start", "offset": -20, "dx": 3, "baseline": "middle", "fontSize": 9.5, "fontWeight": "bold", "fontStyle": "italic", "font": "Lato", "color": "black"},
"data": {"values": [{}]},
"mark": {"type": "rect", "fill": "white", "stroke": "black", "strokeWidth": 1},
"encoding": {}
}
]
}
